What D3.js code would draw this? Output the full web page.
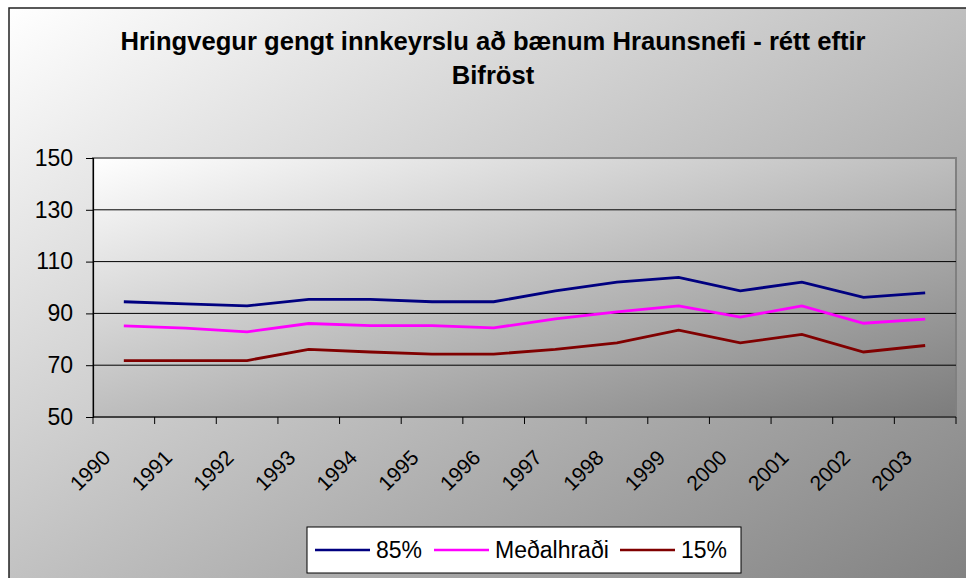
<!DOCTYPE html>
<html>
<head>
<meta charset="utf-8">
<script src="https://cdn.jsdelivr.net/npm/d3@7"></script>
<style>
  body { margin: 0; background: #fff; }
  svg text { font-family: "Liberation Sans", Arial, sans-serif; fill: #000; }
</style>
</head>
<body>
<div id="chart-area"></div>
<script>
// data
const years = ["1990", "1991", "1992", "1993", "1994", "1995", "1996",
  "1997", "1998", "1999", "2000", "2001", "2002", "2003"]
const p85 = [94.5, 93.7, 92.9, 95.4, 95.4, 94.5, 94.5, 98.7, 102.1, 103.9, 98.7, 102.1, 96.2, 97.9]
const medal = [85.2, 84.3, 82.9, 86.1, 85.3, 85.3, 84.4, 87.9, 90.6, 92.9, 88.6, 92.9, 86.2, 87.8]
const p15 = [71.8, 71.8, 71.8, 76.1, 75.1, 74.3, 74.3, 76.1, 78.6, 83.5, 78.6, 81.9, 75.1, 77.6]
const yTicks = [50, 70, 90, 110, 130, 150]
const seriesNames = ["85%", "Meðalhraði", "15%"]
const seriesColors = ["#000080", "#ff00ff", "#800000"]

const series = [p85, medal, p15].map((vals, i) => ({
  name: seriesNames[i],
  color: seriesColors[i],
  values: vals.map((v, j) => ({ year: years[j], value: v }))
}))

const W = 966, H = 578
const PLOT = { LEFT: 93, TOP: 158, RIGHT: 956, BOTTOM: 417 }
const WIDTH = PLOT.RIGHT - PLOT.LEFT
const HEIGHT = PLOT.BOTTOM - PLOT.TOP

const svg = d3.select("#chart-area").append("svg")
  .attr("width", W)
  .attr("height", H)

// gradients
const defs = svg.append("defs")
function addGrad(id, from, to) {
  const gr = defs.append("linearGradient").attr("id", id)
    .attr("x1", 0).attr("y1", 0).attr("x2", 1).attr("y2", 1)
  gr.append("stop").attr("offset", "0%").attr("stop-color", from)
  gr.append("stop").attr("offset", "100%").attr("stop-color", to)
}
addGrad("chartGrad", "#ffffff", "#7a7a7a")
addGrad("plotGrad", "#ffffff", "#7c7c7c")

// chart area (runs off the right and bottom edge)
svg.append("rect")
  .attr("x", 9).attr("y", 8)
  .attr("width", 1000).attr("height", 620)
  .attr("fill", "url(#chartGrad)")
  .attr("stroke", "#222")
  .attr("stroke-width", 1.5)

// title
const title = svg.append("text")
  .attr("x", 493)
  .attr("y", 50)
  .attr("text-anchor", "middle")
  .attr("font-size", "25.6px")
  .attr("font-weight", "bold")
title.append("tspan").attr("x", 493).text("Hringvegur gengt innkeyrslu að bænum Hraunsnefi - rétt eftir")
title.append("tspan").attr("x", 493).attr("dy", 34).text("Bifröst")

const g = svg.append("g")
  .attr("transform", `translate(${PLOT.LEFT}, ${PLOT.TOP})`)

// scales
const x = d3.scaleBand().domain(years).range([0, WIDTH])
const y = d3.scaleLinear().domain([50, 150]).range([HEIGHT, 0])

// plot area
g.append("rect")
  .attr("width", WIDTH).attr("height", HEIGHT)
  .attr("fill", "url(#plotGrad)")
  .attr("stroke", "#808080")
  .attr("stroke-width", 2)

// gridlines
g.selectAll(".grid")
  .data(yTicks.filter(d => d > 50 && d < 150))
  .enter().append("line")
  .attr("class", "grid")
  .attr("x1", 0).attr("x2", WIDTH)
  .attr("y1", d => y(d)).attr("y2", d => y(d))
  .attr("stroke", "#000")
  .attr("stroke-width", 1)

// y axis
const yAxis = g.append("g")
  .call(d3.axisLeft(y).tickValues(yTicks).tickSize(7).tickPadding(13))
yAxis.select(".domain").attr("stroke", "#000").attr("stroke-width", 1.2)
yAxis.selectAll("text").attr("font-size", "23px")
  .style("font-family", "'Liberation Sans', Arial, sans-serif")

// x axis: ticks at the category boundaries
const xAxis = g.append("g")
  .attr("transform", `translate(0, ${HEIGHT})`)
xAxis.append("line")
  .attr("x1", 0).attr("x2", WIDTH)
  .attr("stroke", "#000").attr("stroke-width", 1.2)
xAxis.selectAll(".tick")
  .data(d3.range(years.length + 1))
  .enter().append("line")
  .attr("x1", i => i * x.bandwidth()).attr("x2", i => i * x.bandwidth())
  .attr("y1", 0).attr("y2", 7)
  .attr("stroke", "#000")
xAxis.selectAll(".xlab")
  .data(years)
  .enter().append("text")
  .attr("class", "xlab")
  .attr("text-anchor", "end")
  .attr("font-size", "21px")
  .attr("transform", d => `translate(${x(d) + x.bandwidth() / 2 - 12}, 42) rotate(-45)`)
  .text(d => d)

// lines
const line = d3.line()
  .x(d => x(d.year) + x.bandwidth() / 2)
  .y(d => y(d.value))

g.selectAll(".series")
  .data(series)
  .enter().append("path")
  .attr("class", "series")
  .attr("fill", "none")
  .attr("stroke", d => d.color)
  .attr("stroke-width", 2.8)
  .attr("d", d => line(d.values))

// legend
const legend = svg.append("g").attr("transform", "translate(307, 527)")
legend.append("rect")
  .attr("width", 434).attr("height", 46)
  .attr("fill", "#fff")
  .attr("stroke", "#000")
  .attr("stroke-width", 1)
const lineX = [8, 127, 313]
const item = legend.selectAll(".item")
  .data(series)
  .enter().append("g")
  .attr("transform", (d, i) => `translate(${lineX[i]}, 23)`)
item.append("line")
  .attr("x1", 0).attr("x2", 55)
  .attr("stroke", d => d.color)
  .attr("stroke-width", 2.6)
item.append("text")
  .attr("x", 61)
  .attr("y", 8)
  .attr("font-size", "23px")
  .text(d => d.name)
</script>
</body>
</html>
